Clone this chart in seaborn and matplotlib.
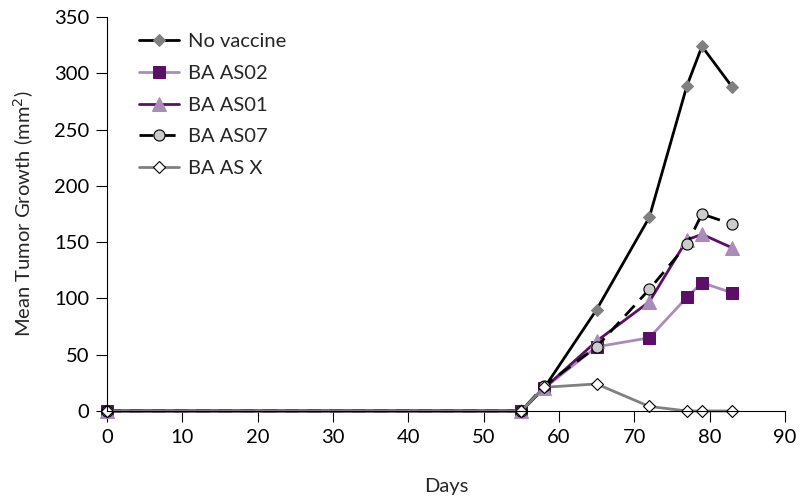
import matplotlib
matplotlib.use('Agg')
import matplotlib.pyplot as plt
import seaborn as sns

# Dias de medição
days = [0, 55, 58, 65, 72, 77, 79, 83]

# Crescimento médio do tumor (mm2) por grupo
no_vaccine = [0, 0, 20, 90, 172, 289, 324, 288]
ba_as02 = [0, 0, 20, 57, 65, 101, 114, 105]
ba_as01 = [0, 0, 20, 62, 97, 152, 157, 145]
ba_as07 = [0, 0, 22, 57, 108, 148, 175, 166]
ba_asx = [0, 0, 21, 24, 4, 0, 0, 0]

labels = ['No vaccine', 'BA AS02', 'BA AS01', 'BA AS07', 'BA AS X']
x_ticks = [0, 10, 20, 30, 40, 50, 60, 70, 80, 90]
y_ticks = [0, 50, 100, 150, 200, 250, 300, 350]


def main():
    sns.set_style('ticks')
    plt.rcParams['font.family'] = ['Lato', 'DejaVu Sans']

    fig = plt.figure(figsize=(8, 5.03), dpi=100)
    ax = fig.add_axes([0.134, 0.183, 0.847, 0.783])

    light_purple = '#a98cb8'
    dark_purple = '#5c0f66'

    styles = [
        dict(color='black', marker='D', markersize=6, markerfacecolor='#808080',
             markeredgecolor='#808080', linestyle='-'),
        dict(color=light_purple, marker='s', markersize=8, markerfacecolor=dark_purple,
             markeredgecolor=dark_purple, linestyle='-'),
        dict(color=dark_purple, marker='^', markersize=10, markerfacecolor=light_purple,
             markeredgecolor=light_purple, linestyle='-'),
        dict(color='black', marker='o', markersize=8, markerfacecolor='#cccccc',
             markeredgecolor='black', markeredgewidth=0.8, linestyle=(0, (5, 3))),
        dict(color='#808080', marker='D', markersize=6, markerfacecolor='white',
             markeredgecolor='black', markeredgewidth=0.8, linestyle='-'),
    ]

    series = [no_vaccine, ba_as02, ba_as01, ba_as07, ba_asx]
    for vals, lab, st in zip(series, labels, styles):
        sns.lineplot(x=days, y=vals, ax=ax, label=lab, linewidth=2, clip_on=False, **st)

    ax.set_xlim(0, 90)
    ax.set_ylim(0, 350)
    ax.set_xticks(x_ticks)
    ax.set_yticks(y_ticks)
    ax.tick_params(labelsize=14.5, length=8, width=0.8, colors='black', pad=5)
    sns.despine(ax=ax)
    for s in ['left', 'bottom']:
        ax.spines[s].set_linewidth(0.8)
        ax.spines[s].set_color('black')

    ax.set_xlabel('Days', fontsize=14.5, labelpad=23)
    ax.set_ylabel('Mean Tumor Growth (mm$^2$)', fontsize=14.5, labelpad=13)

    ax.legend(loc='upper left', bbox_to_anchor=(0.02, 1.005), frameon=False,
              fontsize=14.5, handlelength=2.0, handletextpad=0.45, labelspacing=0.72)

    fig.savefig('out.png', dpi=100)


if __name__ == '__main__':
    main()
